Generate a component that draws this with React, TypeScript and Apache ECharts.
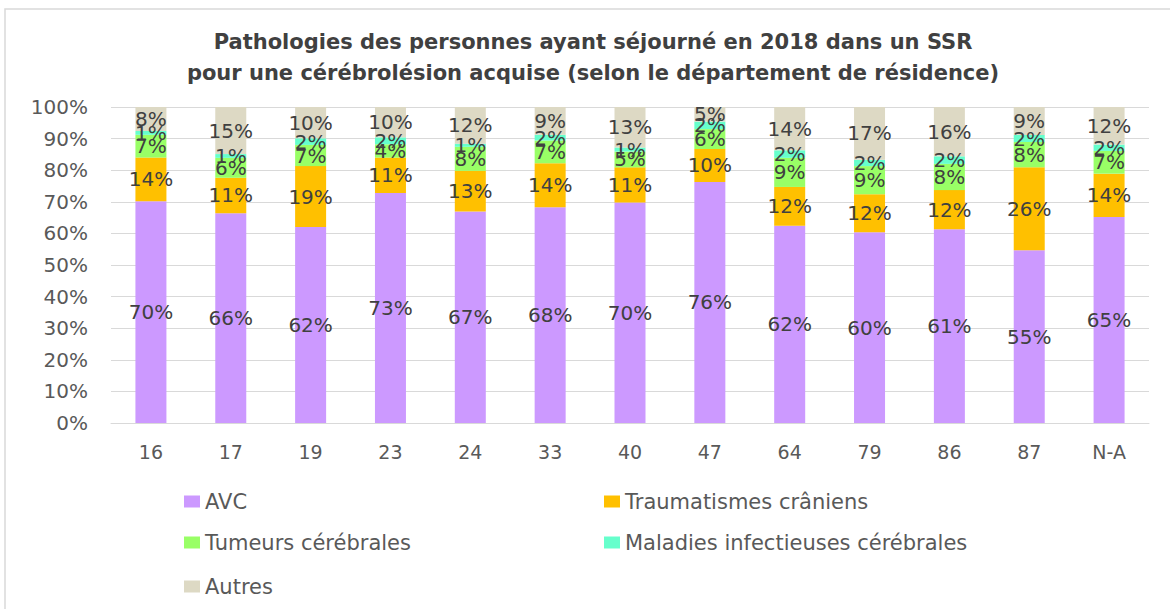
import React, { useEffect, useRef } from "react";
import * as echarts from "echarts";

const categories = ["16", "17", "19", "23", "24", "33", "40", "47", "64", "79", "86", "87", "N-A"];
const avc = [70.2, 66.4, 62.0, 72.8, 66.9, 68.3, 69.8, 76.3, 62.4, 60.4, 61.3, 54.7, 65.2];
const traumatismes = [13.8, 11.2, 19.3, 11.2, 12.9, 13.9, 11.1, 10.4, 12.3, 12.0, 12.4, 26.2, 13.7];
const tumeurs = [7.2, 6.3, 6.7, 4.2, 7.6, 7.2, 5.0, 6.3, 9.2, 8.9, 8.3, 8.0, 7.2];
const maladies = [1.2, 1.2, 2.1, 2.2, 1.0, 1.8, 1.3, 2.4, 2.4, 2.0, 2.4, 2.2, 2.0];
const autres = [7.6, 14.9, 9.9, 9.6, 11.6, 8.8, 12.8, 4.6, 13.7, 16.7, 15.6, 8.9, 11.9];
const yTicks = [0, 10, 20, 30, 40, 50, 60, 70, 80, 90, 100];

const seriesDefs = [
  { name: "AVC", data: avc, color: "#CC99FF" },
  { name: "Traumatismes crâniens", data: traumatismes, color: "#FFC000" },
  { name: "Tumeurs cérébrales", data: tumeurs, color: "#99FF66" },
  { name: "Maladies infectieuses cérébrales", data: maladies, color: "#66FFCC" },
  { name: "Autres", data: autres, color: "#DDD9C4" },
];

const legendPos = [
  { name: "AVC", left: 184, top: 491 },
  { name: "Traumatismes crâniens", left: 604, top: 491 },
  { name: "Tumeurs cérébrales", left: 184, top: 532 },
  { name: "Maladies infectieuses cérébrales", left: 604, top: 532 },
  { name: "Autres", left: 184, top: 576 },
];

const FONT = "DejaVu Sans";

export default function App() {
  const ref = useRef<HTMLDivElement>(null);
  useEffect(() => {
    if (!ref.current) return;
    const chart = echarts.init(ref.current, undefined, { renderer: "svg" });
    chart.setOption({
      animation: false,
      backgroundColor: "#ffffff",
      textStyle: { fontFamily: FONT },
      title: {
        text: "Pathologies des personnes ayant séjourné en 2018 dans un SSR\npour une cérébrolésion acquise (selon le département de résidence)",
        left: 593,
        textAlign: "center",
        top: 26,
        padding: 0,
        textStyle: {
          fontFamily: FONT,
          fontSize: 21,
          fontWeight: "bold",
          color: "#404040",
          lineHeight: 31,
        },
      },
      graphic: [
        {
          type: "rect",
          shape: { x: 5, y: 9, width: 1300, height: 800 },
          style: { fill: "none", stroke: "#d9d9d9", lineWidth: 1.5 },
          silent: true,
        },
      ],
      legend: legendPos.map((l) => ({
        data: [l.name],
        left: l.left,
        top: l.top,
        padding: 0,
        itemWidth: 16,
        itemHeight: 12,
        itemGap: 0,
        icon: "rect",
        textStyle: { fontFamily: FONT, fontSize: 21, color: "#595959" },
      })),
      grid: { left: 111, right: 21, top: 107, bottom: 186, containLabel: false },
      xAxis: {
        type: "category",
        data: categories,
        axisLine: { lineStyle: { color: "#d9d9d9" } },
        axisTick: { show: false },
        axisLabel: { fontFamily: FONT, fontSize: 19, color: "#595959", margin: 19 },
      },
      yAxis: {
        type: "value",
        min: yTicks[0],
        max: yTicks[yTicks.length - 1],
        interval: 10,
        axisLine: { show: false },
        axisTick: { show: false },
        splitLine: { lineStyle: { color: "#d9d9d9" } },
        axisLabel: { fontFamily: FONT, fontSize: 20, color: "#595959", margin: 23, formatter: "{value}%" },
      },
      series: seriesDefs.map((s) => ({
        name: s.name,
        type: "bar",
        stack: "total",
        barWidth: 31,
        data: s.data,
        itemStyle: { color: s.color },
        label: {
          show: true,
          position: "inside",
          fontFamily: FONT,
          fontSize: 20,
          color: "#404040",
          formatter: (p: any) => Math.round(p.value) + "%",
        },
      })),
    });
    return () => chart.dispose();
  }, []);
  return (
    <div
      ref={ref}
      style={{ position: "fixed", left: 0, top: 0, width: 1170, height: 609 }}
    />
  );
}
